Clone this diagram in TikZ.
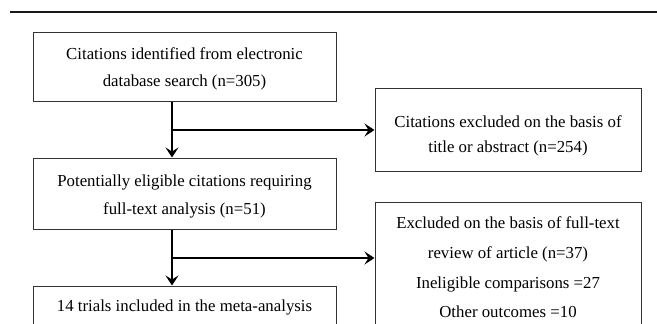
\documentclass[tikz,border=0pt]{standalone}
\usepackage{fontspec}
\setmainfont{Liberation Serif}
\usetikzlibrary{arrows.meta}
\begin{document}
\begin{tikzpicture}[x=1pt,y=-1pt,
  box/.style={draw=black!80, line width=1pt, rectangle, inner sep=0pt},
  txt/.style={align=center, inner sep=0pt, text=black},
  conn/.style={line width=2pt, -{Stealth[length=10pt,width=13pt,inset=4pt]}},
  plain/.style={line width=2pt}]
\useasboundingbox (0,0) rectangle (657,324);
\clip (0,0) rectangle (657,324);
\fill[white] (0,0) rectangle (657,324);
% top rule
\coordinate (r1) at (10,12);
\coordinate (r2) at (657,12);
\draw[line width=2pt, black!90] (r1) -- (r2);
% boxes
\node[box, minimum width=303pt, minimum height=69pt] (b1) at (184.5,66.5) {};
\node[box, minimum width=266pt, minimum height=83pt] (b2) at (508,129.5) {};
\node[box, minimum width=303pt, minimum height=71pt] (b3) at (184.5,193.5) {};
\node[box, minimum width=266pt, minimum height=160pt] (b4) at (508,282) {};
\node[box, minimum width=303pt, minimum height=80pt] (b5) at (184.5,326) {};
% texts
\node[txt, font=\fontsize{16.8}{27}\selectfont] (t1) at (184.5,68.5)
  {Citations identified from electronic\\database search (n=305)};
\node[txt, font=\fontsize{16.8}{25}\selectfont] (t2) at (508,135.5)
  {Citations excluded on the basis of\\title or abstract (n=254)};
\node[txt, font=\fontsize{16.8}{28}\selectfont] (t3) at (184.5,196)
  {Potentially eligible citations requiring\\full-text analysis (n=51)};
\node[txt, font=\fontsize{16.8}{29.6}\selectfont] (t4) at (508,267.5)
  {Excluded on the basis of full-text\\review of article (n=37)\\Ineligible comparisons =27\\Other outcomes =10};
\node[txt, font=\fontsize{16.8}{28}\selectfont] (t5) at (184.5,307)
  {14 trials included in the meta-analysis};
% connectors
\coordinate (j1) at (172,130);
\coordinate (j2) at (172,258);
\draw[conn] (j1 |- b1.south) -- (j1 |- b3.north);
\draw[conn] (j1) -- (j1 -| b2.west);
\draw[conn] (j2 |- b3.south) -- (j2 |- b5.north);
\draw[conn] (j2) -- (j2 -| b4.west);
\end{tikzpicture}
\end{document}
